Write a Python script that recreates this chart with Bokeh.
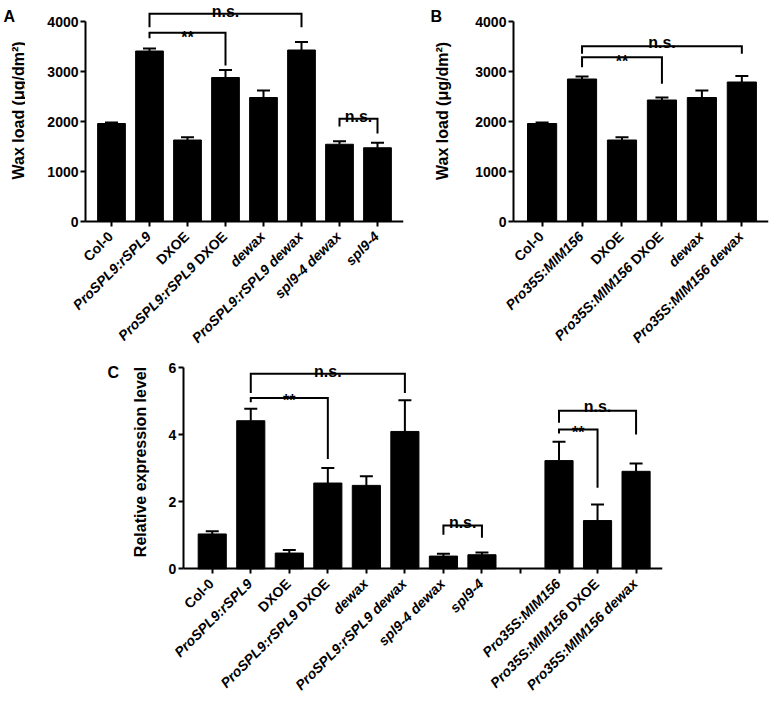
import math
from bokeh.plotting import figure
from bokeh.models import Range1d, FixedTicker, ColumnDataSource
from bokeh.layouts import column, row
from bokeh.embed import file_html
from bokeh.resources import INLINE
from bokeh.core.properties import value

FONT = "Liberation Sans"

# ---------------- data ----------------
a_labels = ["Col-0", "ProSPL9:rSPL9", "DXOE", "ProSPL9:rSPL9 DXOE", "dewax",
            "ProSPL9:rSPL9 dewax", "spl9-4 dewax", "spl9-4"]
a_values = [1960, 3410, 1630, 2880, 2480, 3430, 1545, 1475]
a_errors = [20, 50, 55, 150, 140, 160, 60, 100]
a_ticks = [0, 1000, 2000, 3000, 4000]

b_labels = ["Col-0", "Pro35S:MIM156", "DXOE", "Pro35S:MIM156 DXOE", "dewax",
            "Pro35S:MIM156 dewax"]
b_values = [1960, 2850, 1630, 2430, 2480, 2790]
b_errors = [20, 50, 55, 50, 140, 120]
b_ticks = [0, 1000, 2000, 3000, 4000]

c_labels = ["Col-0", "ProSPL9:rSPL9", "DXOE", "ProSPL9:rSPL9 DXOE", "dewax",
            "ProSPL9:rSPL9 dewax", "spl9-4 dewax", "spl9-4",
            "Pro35S:MIM156", "Pro35S:MIM156 DXOE", "Pro35S:MIM156 dewax"]
c_values = [1.04, 4.42, 0.47, 2.56, 2.49, 4.10, 0.38, 0.42, 3.23, 1.44, 2.91]
c_errors = [0.08, 0.36, 0.09, 0.45, 0.27, 0.93, 0.07, 0.07, 0.56, 0.48, 0.23]
c_positions = [0, 1, 2, 3, 4, 5, 6, 7, 9, 10, 11]   # slot 8 is an empty gap
c_slots = list(range(12))
c_ticks = [0, 2, 4, 6]

# significance brackets: (left pos, right pos, top, left end, right end, text, text baseline)
a_brackets = [(1, 5, 4154, 3887, 3887, "n.s.", 4194),
              (1, 3, 3773, 3667, 3120, "**", 3682),
              (6, 7, 2053, 1900, 1760, "n.s.", 2093)]
b_brackets = [(1, 5, 3507, 3353, 3353, "n.s.", 3587),
              (1, 3, 3287, 3087, 2753, "**", 3196)]
c_brackets = [(1, 5, 5.82, 5.25, 5.25, "n.s.", 5.90),
              (1, 3, 5.10, 4.97, 3.28, "**", 5.02),
              (6, 7, 1.29, 1.02, 0.93, "n.s.", 1.37),
              (9, 11, 4.72, 4.36, 4.01, "n.s.", 4.85),
              (9, 10, 4.16, 4.04, 2.42, "**", 4.07)]

regular_words = {"Col-0", "DXOE"}

# Helvetica/Arial bold advance widths (per 1000 em)
HB = {' ': 278, '-': 333, ':': 333, 'C': 722, 'D': 722, 'E': 667, 'I': 278,
      'L': 611, 'M': 833, 'O': 778, 'P': 667, 'S': 667, 'X': 667, 'a': 556,
      'd': 611, 'e': 556, 'l': 278, 'o': 611, 'p': 611, 'r': 389, 's': 556,
      'w': 778, 'x': 556}
for dch in "0123456789":
    HB[dch] = 556


def text_width(t, size):
    return sum(HB.get(ch, 556) for ch in t) * size / 1000.0


LABEL_SIZE = 14
ANGLE = math.pi / 4


def style_fig(p):
    p.outline_line_color = None
    p.grid.visible = False
    p.background_fill_color = "white"
    p.border_fill_color = "white"


def make_panel(width, height, bl, br, bb, x_start, x_end, x_axis_start,
               zero_px, upp, y_max, yticks, positions, values, errors, slots,
               labels, brackets):
    frame_w = width - bl - br
    frame_h = height - bb
    y_end = zero_px * upp
    y_start = -(frame_h - zero_px) * upp
    p = figure(width=width, height=height,
               x_range=Range1d(x_start, x_end), y_range=Range1d(y_start, y_end),
               output_backend="svg", toolbar_location=None,
               min_border_left=bl, min_border_right=br, min_border_top=0,
               min_border_bottom=bb)
    style_fig(p)
    xpp = (x_end - x_start) / frame_w

    # bars
    p.vbar(x=positions, top=values, width=0.73, bottom=0,
           fill_color="black", line_color="black")
    # error bars (upper only)
    tops = [v + e for v, e in zip(values, errors)]
    p.segment(x0=positions, y0=values, x1=positions, y1=tops,
              line_color="black", line_width=2)
    hw = 6.5 * xpp
    p.segment(x0=[x - hw for x in positions], y0=tops,
              x1=[x + hw for x in positions], y1=tops,
              line_color="black", line_width=2)

    # brackets
    xs, ys, tx, ty, tt = [], [], [], [], []
    for (l, r, top, le, re_, txt, tb) in brackets:
        xs.append([l, l, r, r])
        ys.append([le, top, top, re_])
        tx.append((l + r) / 2)
        ty.append(tb)
        tt.append(txt)
    p.multi_line(xs=xs, ys=ys, line_color="black", line_width=2,
                 line_join="miter")
    p.text(x=tx, y=ty, text=tt, text_font=value(FONT),
           text_font_size=value("16px"), text_font_style="bold",
           text_align="center", text_baseline="alphabetic", text_color="black")

    # axes (drawn at fixed data locations inside the frame)
    for ax in (p.xaxis[0], p.yaxis[0]):
        ax.axis_line_width = 2
        ax.axis_line_color = "black"
        ax.major_tick_line_width = 2
        ax.major_tick_line_color = "black"
        ax.major_tick_out = 5
        ax.major_tick_in = 0
        ax.minor_tick_line_color = None
        ax.major_label_text_font_size = "0px"
        ax.major_label_text_color = None
        ax.major_label_standoff = 0
    p.yaxis.ticker = FixedTicker(ticks=yticks)
    p.yaxis.bounds = (0, y_max)
    p.yaxis.fixed_location = x_axis_start
    p.xaxis.ticker = FixedTicker(ticks=slots)
    p.xaxis.fixed_location = 0
    p.xaxis.bounds = (x_axis_start, x_end)

    # y tick labels
    p.text(x=[x_axis_start - 7 * xpp] * len(yticks), y=yticks,
           text=[str(t) for t in yticks], text_font=value(FONT),
           text_font_size=value("14px"), text_font_style="bold",
           text_align="right", text_baseline="middle", text_color="black")

    # rotated category labels (italic genotype names, regular others)
    c45 = math.cos(ANGLE)
    dx, dy = -1.0, 12.5
    lx, ly, lt, ls = [], [], [], []
    for lab, pos in zip(labels, positions):
        words = lab.split(" ")
        runs = []
        for w in words:
            it = w not in regular_words
            if runs and runs[-1][0] == it:
                runs[-1][1].append(w)
            else:
                runs.append([it, [w]])
        offset = 0.0
        for it, ws in reversed(runs):
            t = " ".join(ws)
            px = dx - offset * c45
            py = dy + offset * c45
            lx.append(pos + px * xpp)
            ly.append(-py * upp)
            lt.append(t)
            ls.append("bold italic" if it else "bold")
            offset += text_width(t, LABEL_SIZE) + text_width(" ", LABEL_SIZE)
    src = ColumnDataSource(dict(x=lx, y=ly, text=lt, style=ls))
    p.text(x="x", y="y", text="text", source=src, angle=ANGLE,
           text_align="right", text_baseline="middle", text_font=value(FONT),
           text_font_size=value(f"{LABEL_SIZE}px"), text_font_style="style",
           text_color="black")
    return p


def side_fig(width, height, letter, letter_xy, title, title_xy):
    s = figure(width=width, height=height, x_range=Range1d(0, width),
               y_range=Range1d(0, height), output_backend="svg",
               toolbar_location=None, x_axis_type=None, y_axis_type=None,
               min_border_left=0, min_border_right=0, min_border_top=0,
               min_border_bottom=0)
    style_fig(s)
    s.text(x=[letter_xy[0]], y=[height - letter_xy[1]], text=[letter],
           text_font=value(FONT), text_font_size=value("16px"),
           text_font_style="bold", text_align="left",
           text_baseline="alphabetic", text_color="black")
    s.text(x=[title_xy[0]], y=[height - title_xy[1]], text=[title],
           angle=math.pi / 2, text_font=value(FONT),
           text_font_size=value("16px"), text_font_style="bold",
           text_align="center", text_baseline="middle", text_color="black")
    return s


sA = side_fig(25, 352, "A", (3, 16), "Wax load (μg/dm²)", (17.5, 112.5))
pA = make_panel(395, 352, 10, 17, 8, -76 / 38, 7 + 26 / 38, -26 / 38,
                221, 20, 4000, a_ticks, list(range(8)), a_values, a_errors,
                list(range(8)), a_labels, a_brackets)
sB = side_fig(32, 352, "B", (10, 16), "Wax load (μg/dm²)", (22, 113))
pB = make_panel(318, 352, 10, 2, 8, -79.7 / 40, 5.6675, -28.7 / 40,
                221, 20, 4000, b_ticks, list(range(6)), b_values, b_errors,
                list(range(6)), b_labels, b_brackets)
sC = side_fig(150, 355, "C", (107, 20), "Relative expression level", (140, 112))
pC = make_panel(620, 355, 10, 108, 8, -51.7 / 38.5, 11.686, -29 / 38.5,
                216.3, 1 / 33.5, 6, c_ticks, c_positions, c_values, c_errors,
                c_slots, c_labels, c_brackets)

layout = column(row(sA, pA, sB, pB), row(sC, pC))
open("out.html", "w").write(file_html(layout, INLINE))
